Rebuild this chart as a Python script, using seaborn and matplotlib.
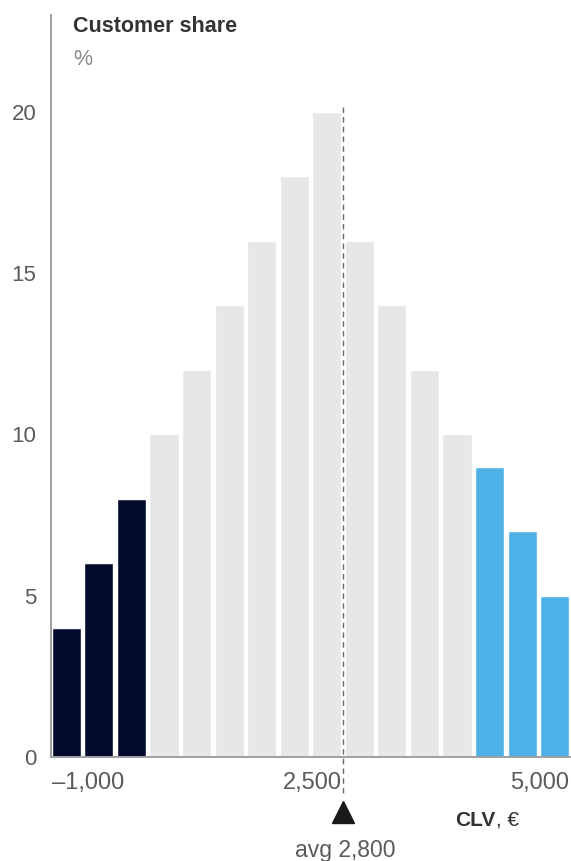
import matplotlib
matplotlib.use("Agg")
import matplotlib.pyplot as plt
import seaborn as sns
import pandas as pd

# Customer lifetime value distribution: share of customers per CLV bin
bin_id = [0, 1, 2, 3, 4, 5, 6, 7, 8, 9, 10, 11, 12, 13, 14, 15]
share = [4, 6, 8, 10, 12, 14, 16, 18, 20, 16, 14, 12, 10, 9, 7, 5]
segment = ["low", "low", "low",
           "mid", "mid", "mid", "mid", "mid", "mid", "mid", "mid", "mid", "mid",
           "high", "high", "high"]

x_tick_labels = ["\u20131,000", "2,500", "5,000"]
y_ticks = [0, 5, 10, 15, 20]
avg_label = "avg 2,800"

palette = {"low": "#020b2c", "mid": "#e6e7e9", "high": "#4db1e8"}

df = pd.DataFrame({"bin": bin_id, "share": share, "segment": segment})

sns.set_style("white")
plt.rcParams["font.family"] = ["Liberation Sans", "DejaVu Sans"]

W, H = 571, 861
fig = plt.figure(figsize=(W / 100, H / 100), dpi=100)
ax = fig.add_axes([51 / W, 1 - 757 / H, 520 / W, 742 / H])

sns.barplot(data=df, x="bin", y="share", hue="segment", palette=palette,
            dodge=False, width=0.895, saturation=1, legend=False, ax=ax,
            order=bin_id)

ax.set_xlim(-0.47, 15.5)
ax.set_ylim(0, 23)
ax.set_xlabel("")
ax.set_ylabel("")

axis_gray = "#a0a0a0"
for side in ["top", "right"]:
    ax.spines[side].set_visible(False)
for side in ["left", "bottom"]:
    ax.spines[side].set_color(axis_gray)
    ax.spines[side].set_linewidth(1.4)

ax.set_yticks(y_ticks)
ax.set_yticklabels([str(v) for v in y_ticks])
ax.tick_params(axis="y", length=5, width=1, color=axis_gray, pad=5.5,
               labelsize=16, labelcolor="#5a5a5a")

# x labels sit on bin edges: left of first bin, right of ninth and last bins
ax.set_xticks([-0.44, 8.46, 15.44])
ax.set_xticklabels(x_tick_labels)
ax.tick_params(axis="x", length=0, pad=11, labelsize=17, labelcolor="#5a5a5a")
aligns = ["left", "right", "right"]
for lbl, ha in zip(ax.get_xticklabels(), aligns):
    lbl.set_ha(ha)

# average marker: dashed guide, triangle and label
avg_x = 8.5
ax.vlines(avg_x, -1.12, 20.15, colors="#6a6a6a", linestyles=(0, (4, 3)),
          linewidth=1.0, clip_on=False, zorder=3)
ax.plot([avg_x], [-1.7], marker="^", markersize=16, color="#1a1a1a",
        clip_on=False, zorder=4)

def px(x, y):
    return x / W, 1 - y / H

fig.text(*px(73, 32), "Customer share", fontsize=15.5, fontweight="bold",
         color="#333333", ha="left", va="baseline")
fig.text(*px(73, 65), "%", fontsize=15.5, color="#8a8a8a",
         ha="left", va="baseline")

fig.text(*px(495, 826), "CLV", fontsize=15, fontweight="bold",
         color="#333333", ha="right", va="baseline")
fig.text(*px(496, 826), ", \u20ac", fontsize=15, color="#333333",
         ha="left", va="baseline")

fig.text(*px(345, 857), avg_label, fontsize=16.5, color="#5a5a5a",
         ha="center", va="baseline")

fig.savefig("out.png", dpi=100)
